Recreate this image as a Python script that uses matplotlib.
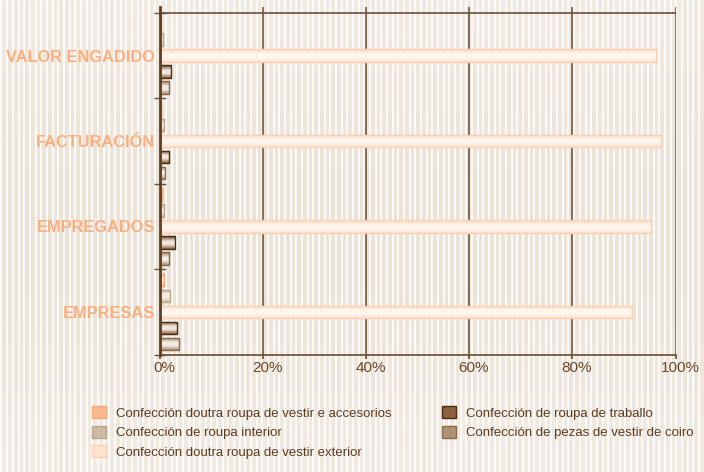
import numpy as np
import matplotlib
matplotlib.use("Agg")
import matplotlib.pyplot as plt
from matplotlib.colors import LinearSegmentedColormap
from matplotlib.patches import Patch
import matplotlib.transforms as mtransforms

# ---------------- data (bottom to top) ----------------
categories = ["EMPRESAS", "EMPREGADOS", "FACTURACIÓN", "VALOR ENGADIDO"]
series_names = [
    "Confección doutra roupa de vestir e accesorios",
    "Confección de roupa interior",
    "Confección doutra roupa de vestir exterior",
    "Confección de roupa de traballo",
    "Confección de pezas de vestir de coiro",
]
accesorios = [0.9, 0.5, 0.3, 0.3]
interior = [2.0, 0.9, 0.9, 0.6]
exterior = [91.6, 95.3, 97.2, 96.2]
traballo = [3.3, 3.0, 1.9, 2.2]
coiro = [3.7, 1.9, 1.1, 1.9]
xticks = [0, 20, 40, 60, 80, 100]
xtick_labels = ["0%", "20%", "40%", "60%", "80%", "100%"]

series_values = [accesorios, interior, exterior, traballo, coiro]
# (edge, dark, light, base) colours per series
styles = [
    ("#f5a877", "#f7b084", "#fde6d6", "#f8b98f"),
    ("#bba58d", "#c7b29c", "#f4eee8", "#cdb9a4"),
    ("#fbcfb0", "#fdd8bf", "#fff6ef", "#fee3d1"),
    ("#4a2a10", "#6e4524", "#f1e7de", "#8c6040"),
    ("#8a6a4b", "#9d7d5f", "#f3ece5", "#b09274"),
]

W, H, DPI = 704, 472, 100
fig = plt.figure(figsize=(W / DPI, H / DPI), dpi=DPI)

# striped background
bg = fig.add_axes([0, 0, 1, 1], zorder=-10)
xx = np.arange(W)
white = (xx % 5.67) < 2.0
yy = np.arange(H)
shade = 1 - 0.5 * np.exp(-((yy - 230) / 180.0) ** 2)
beige_top = np.array([243, 236, 227]) / 255
beige_mid = np.array([236, 227, 215]) / 255
img = np.zeros((H, W, 3))
for c in range(3):
    col = beige_mid[c] + (beige_top[c] - beige_mid[c]) * (shade[:, None] - 0.5) * 2
    img[:, :, c] = np.where(white[None, :], 250 / 255, col)
bg.imshow(img, aspect="auto", extent=[0, 1, 0, 1], interpolation="nearest")
bg.axis("off")

ax = fig.add_axes([159.5 / W, 1 - 354.5 / H, (675.7 - 159.5) / W, (354.5 - 7) / H])
ax.patch.set_alpha(0)

n = len(categories)
step = 0.187
bh = 0.146
offsets = [2 * step, step, 0, -step, -2 * step]
centers = np.arange(n) + 0.5

for vals, off, (edge, dark, light, base) in zip(series_values, offsets, styles):
    bars = ax.barh(centers + off, vals, height=bh, left=0, color=base,
                   edgecolor="none", zorder=3)
    cmap = LinearSegmentedColormap.from_list(
        "g", [(0, base), (0.35, light), (0.6, light), (1.0, dark)])
    grad = np.linspace(0, 1, 64).reshape(-1, 1)
    for b in bars:
        x0, y0, w, h = b.get_x(), b.get_y(), b.get_width(), b.get_height()
        im = ax.imshow(grad, extent=[x0, x0 + w, y0, y0 + h], aspect="auto",
                       cmap=cmap, origin="lower", zorder=3.5,
                       interpolation="bilinear")
        im.set_clip_path(b)
    ax.barh(centers + off, vals, height=bh, left=0, fill=False,
            edgecolor=edge, linewidth=1.0, zorder=4)

ax.set_xlim(0, 100)
ax.set_ylim(0, n + 0.07)
ax.set_aspect("auto")

line_col = "#6a4a2e"
ax.axhline(n, color="#6b5040", lw=1.2, zorder=2)
for s in ["top", "right"]:
    ax.spines[s].set_visible(False)
ax.spines["left"].set_color("#5e3d20")
ax.spines["left"].set_linewidth(2.0)
ax.spines["left"].set_zorder(5)
ax.spines["bottom"].set_color("#6b4a2c")
ax.spines["bottom"].set_linewidth(1.2)

ax.set_xticks(xticks)
ax.set_xticklabels(xtick_labels, fontsize=11, color="#6b4727",
                   family="Liberation Sans")
ax.tick_params(axis="x", direction="out", length=3, width=1.2,
               color="#6b4a2c", pad=1.5)
off_t = mtransforms.ScaledTranslation(4.5 / DPI, 0, fig.dpi_scale_trans)
for lab in ax.get_xticklabels():
    lab.set_transform(lab.get_transform() + off_t)
ax.grid(axis="x", color=line_col, lw=1.1, zorder=1)
ax.set_axisbelow(True)

ax.set_yticks(np.arange(n + 1))
ax.set_yticklabels([])
ax.tick_params(axis="y", which="major", direction="inout", length=9,
               width=1.0, color="#6b5040")
ax.set_yticks(centers, minor=True)
ax.set_yticklabels(categories, minor=True, fontsize=11.8, fontweight="bold",
                   color="#f8b080", family="Liberation Sans")
ax.tick_params(axis="y", which="minor", length=0, pad=3)

handles = [Patch(facecolor=s[3], edgecolor=s[0], linewidth=1.0) for s in styles]
leg = fig.legend(handles, series_names, ncol=2, loc="upper left",
                 bbox_to_anchor=(92 / W, 1 - 406 / H), frameon=False,
                 borderpad=0, borderaxespad=0, handlelength=1.05,
                 handleheight=1.05, handletextpad=0.75, columnspacing=3.85,
                 labelspacing=0.45,
                 prop={"family": "Liberation Sans", "size": 9.5})
for t in leg.get_texts():
    t.set_color("#5b3b1f")

fig.savefig("out.png", dpi=DPI)
